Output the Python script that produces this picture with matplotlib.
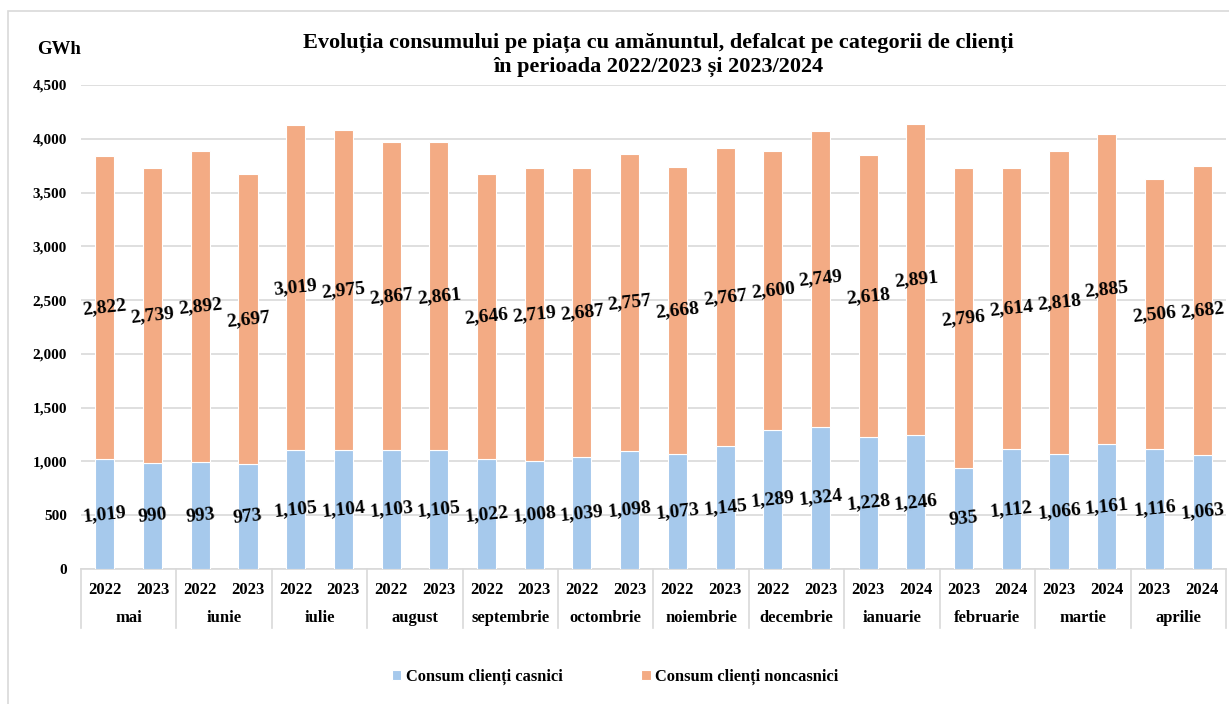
import matplotlib
matplotlib.use("Agg")
import matplotlib.pyplot as plt
from matplotlib.lines import Line2D
from matplotlib.patches import Rectangle
import matplotlib.transforms as mtransforms
import numpy as np

casnici = [1019, 990, 993, 973, 1105, 1104, 1103, 1105, 1022, 1008, 1039, 1098,
           1073, 1145, 1289, 1324, 1228, 1246, 935, 1112, 1066, 1161, 1116, 1063]
noncasnici = [2822, 2739, 2892, 2697, 3019, 2975, 2867, 2861, 2646, 2719, 2687, 2757,
              2668, 2767, 2600, 2749, 2618, 2891, 2796, 2614, 2818, 2885, 2506, 2682]
years = ['2022', '2023'] * 8 + ['2023', '2024'] * 4
months = ['mai', 'iunie', 'iulie', 'august', 'septembrie', 'octombrie', 'noiembrie',
          'decembrie', 'ianuarie', 'februarie', 'martie', 'aprilie']
yticks = [0, 500, 1000, 1500, 2000, 2500, 3000, 3500, 4000, 4500]
title = "Evoluția consumului pe piața cu amănuntul, defalcat pe categorii de clienți\nîn perioada 2022/2023 și 2023/2024"
legend_labels = ["Consum clienți casnici", "Consum clienți noncasnici"]

BLUE = "#A6C9EC"
ORANGE = "#F3AB84"
GRID = "#D9D9D9"
FONT = "Liberation Serif"

plt.rcParams['font.family'] = [FONT, 'DejaVu Serif']
plt.rcParams['font.weight'] = 'bold'

W, H = 1229, 704
fig = plt.figure(figsize=(W / 100, H / 100), dpi=100)

# outer border
fig.patches.append(Rectangle((8 / W, -0.1), 1.2, 1 - 11 / H + 0.1, transform=fig.transFigure,
                             fill=False, edgecolor=GRID, linewidth=1.2))

left, right = 81 / W, 1226 / W
bottom, top = 1 - 569 / H, 1 - 85 / H
ax = fig.add_axes([left, bottom, right - left, top - bottom])

x = np.arange(len(casnici))
ax.bar(x, casnici, width=0.4, color=BLUE, edgecolor='white', linewidth=0.8, zorder=3,
       label=legend_labels[0])
ax.bar(x, noncasnici, bottom=casnici, width=0.4, color=ORANGE, edgecolor='white',
       linewidth=0.8, zorder=3, label=legend_labels[1])

ax.set_xlim(-0.5, len(casnici) - 0.5)
ax.set_ylim(0, 4500)
ax.set_yticks(yticks)
ax.set_yticklabels([f"{v:,}" for v in yticks], fontsize=11, fontweight='bold')
ax.tick_params(axis='y', length=0, pad=10)
ax.set_xticks([])
ax.grid(axis='y', color=GRID, linewidth=1.2, zorder=0)
for s in ['top', 'right', 'left']:
    ax.spines[s].set_visible(False)
ax.spines['bottom'].set_color(GRID)
ax.spines['bottom'].set_linewidth(1.2)

# value labels
for xi, c, n in zip(x, casnici, noncasnici):
    ax.text(xi, c / 2, f"{c:,}", ha='center', va='center', fontsize=14,
            fontweight='bold', rotation=6, zorder=5)
    ax.text(xi, c + n / 2, f"{n:,}", ha='center', va='center', fontsize=14,
            fontweight='bold', rotation=6, zorder=5)

# two-level category axis
trans = mtransforms.blended_transform_factory(ax.transData, ax.transAxes)
hpx = 569 - 85
y_year = -(590 - 569) / hpx
y_month = -(618 - 569) / hpx
y_end = -(628 - 569) / hpx
for xi, yr in zip(x, years):
    ax.text(xi, y_year, yr, transform=trans, ha='center', va='center', fontsize=12,
            fontweight='bold', clip_on=False)
for i, m in enumerate(months):
    ax.text(2 * i + 0.5, y_month, m, transform=trans, ha='center', va='center',
            fontsize=12, fontweight='bold', clip_on=False)
for i in range(len(months) + 1):
    xb = 2 * i - 0.5
    ax.add_line(Line2D([xb, xb], [0, y_end], transform=trans, color=GRID,
                       linewidth=1.2, clip_on=False))

# title and unit
fig.text(658 / W, 1 - 55 / H, title, ha='center', va='center', fontsize=16,
         fontweight='bold', linespacing=1.3)
fig.text(59 / W, 1 - 50 / H, "GWh", ha='center', va='center', fontsize=13.5,
         fontweight='bold')

fig.legend(loc='center', bbox_to_anchor=(615 / W, 1 - 677 / H), ncol=2,
           frameon=False, prop={'family': FONT, 'weight': 'bold', 'size': 11.8},
           handlelength=0.6, handleheight=0.6, handletextpad=0.25, columnspacing=4.8)

fig.savefig("out.png", dpi=100)
